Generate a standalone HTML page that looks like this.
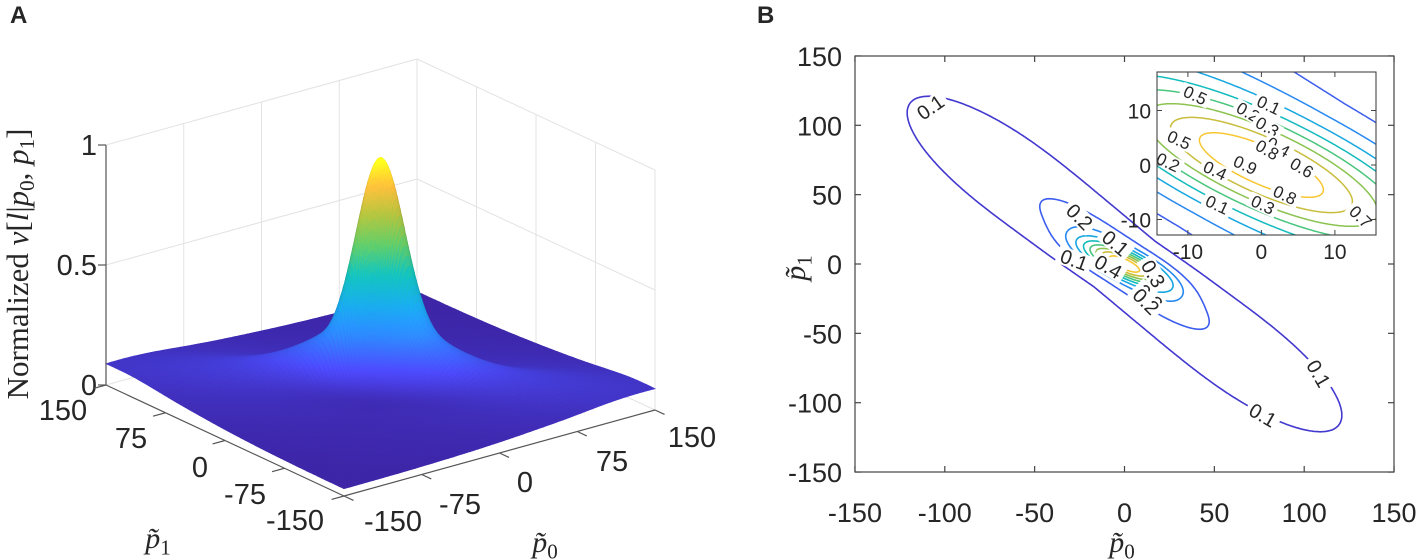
<!DOCTYPE html>
<html><head><meta charset="utf-8"><style>
html,body{margin:0;padding:0;background:#fff;}
svg{display:block;}
text{font-family:"Liberation Sans",sans-serif;fill:#262626;}
.serif{font-family:"Liberation Serif",serif;}
</style></head><body>
<svg id="fig" width="1417" height="560" viewBox="0 0 1417 560" xmlns="http://www.w3.org/2000/svg">
<defs>
<clipPath id="mainClip"><rect x="855" y="56" width="539" height="416"/></clipPath>
<clipPath id="insetClip"><rect x="1157" y="72" width="219" height="163"/></clipPath>
</defs>
<text x="10" y="23" font-size="24" font-weight="bold" fill="#000">A</text>
<text x="757" y="23" font-size="24" font-weight="bold" fill="#000">B</text>
<g id="panelA"></g>
<g id="panelB"></g>
</svg>
<script>
// ---- data ----
const zTicks = [0, 0.5, 1];
const p0TicksA = [-150, -75, 0, 75, 150];
const p1TicksA = [-150, -75, 0, 75, 150];
const mainTicks = [-150, -100, -50, 0, 50, 100, 150];
const insetTicks = [-10, 0, 10];
const contourLevels = [0.1, 0.2, 0.3, 0.4, 0.5, 0.6, 0.7, 0.8, 0.9];
// surface model parameters
const bgLevel = [0.03, 0.05];
const ridgeAmp = [0.08];
const peakAmp = [0.66];
const shoulderAmp = [0.18];
const dipAmp = [0.03];
// contour labels: value, p0, p1
const mainLabelVals = ["0.1","0.2","0.1","0.1","0.4","0.3","0.3","0.2","0.1","0.1"];
const mainLabelP0 = [-108, -25, -5, -28, -9, 16, 14, 12, 108, 77];
const mainLabelP1 = [113, 34, 15, 3, -2, -7, -24, -27, -79, -109];
const insetLabelVals = ["0.5","0.1","0.2","0.3","0.4","0.8","0.6","0.5","0.2","0.4","0.9","0.8","0.3","0.1","0.7"];
const insetLabelX = [-9, 1, -1.8, 0.8, 2.3, 0.8, 5.5, -11.2, -12.7, -6.3, -2.2, 3.2, 0.2, -6, 13.5];
const insetLabelY = [12.8, 11, 9.7, 7, 3.3, 2.8, -0.5, 4.6, 0.5, -1, 0, -5.5, -7.3, -7.3, -9.5];

const NS = "http://www.w3.org/2000/svg";
function el(tag, attrs, parent){const e=document.createElementNS(NS,tag);for(const k in attrs)e.setAttribute(k,attrs[k]);if(parent)parent.appendChild(e);return e;}

function surf(p0,p1){
  const dperp=(p0+p1)/Math.SQRT2, dpar=(p0-p1)/Math.SQRT2;
  const bg=bgLevel[0]+bgLevel[1]*Math.exp(-dperp*dperp/(2*70*70));
  const sp=12+0.09*Math.abs(dpar);
  const ridge=ridgeAmp[0]*Math.exp(-dperp*dperp/(2*sp*sp))*Math.exp(-dpar*dpar/(2*100*100));
  const dip=-dipAmp[0]*Math.exp(-dpar*dpar/(2*40*40))*(1-Math.exp(-dperp*dperp/(2*10*10)))*Math.exp(-dperp*dperp/(2*40*40));
  const sh=shoulderAmp[0]*Math.exp(-dpar*dpar/(2*42*42))*Math.exp(-dperp*dperp/(2*13*13));
  const n=Math.sqrt(1+0.36);
  const a=(p0-0.6*p1)/n, b=(0.6*p0+p1)/n;
  const peak=peakAmp[0]*Math.exp(-a*a/(2*18*18))*Math.exp(-b*b/(2*6*6));
  return bg+ridge+dip+peak+sh;
}
const stops=[[0,[62,38,168]],[0.12,[71,69,233]],[0.25,[44,128,246]],[0.37,[25,165,228]],[0.5,[19,190,184]],[0.62,[94,200,103]],[0.75,[176,191,61]],[0.87,[246,185,58]],[1,[249,251,20]]];
function parula(t,sh){t=Math.max(0,Math.min(1,t));sh=sh||1;let i=0;while(i<stops.length-2&&t>stops[i+1][0])i++;
  const a=stops[i],b=stops[i+1],u=(t-a[0])/(b[0]-a[0]);
  const c=a[1].map((v,k)=>Math.round(Math.min(255,(v+(b[1][k]-v)*u)*sh)));return `rgb(${c[0]},${c[1]},${c[2]})`;}

// ---------- Panel A ----------
const A=document.getElementById('panelA');
function P(p0,p1,z){return [380.5+(p0/150)*155.5+(p1/150)*(-119), 397.5+(p0/150)*(-43)+(p1/150)*(-55.5)-240*z];}
function line(g,a,b,stroke,w,name){const l=el('line',{x1:a[0],y1:a[1],x2:b[0],y2:b[1],stroke:stroke,'stroke-width':w},g);
  
  return l;}
const gridG=el('g',{},A);


const gc='#e3e3e3';
p0TicksA.forEach(v=>{line(gridG,P(v,150,0),P(v,150,1),gc,1,'wall-gridline');});
p1TicksA.forEach(v=>{line(gridG,P(150,v,0),P(150,v,1),gc,1,'wall-gridline');});
zTicks.forEach(z=>{line(gridG,P(-150,150,z),P(150,150,z),gc,1,'wall-gridline');line(gridG,P(150,150,z),P(150,-150,z),gc,1,'wall-gridline');});
// surface on a grid refined near the centre
const N=120;
const gp=[];for(let i=0;i<=N;i++){const t=-1+2*i/N;gp.push(150*(0.3*t+0.7*t*t*t));}
const zv=[];let zmin=1e9,zmax=-1e9;
for(let i=0;i<=N;i++){zv.push([]);for(let j=0;j<=N;j++){const z=surf(gp[i],gp[j]);zv[i].push(z);zmin=Math.min(zmin,z);zmax=Math.max(zmax,z);}}
const quads=[];
for(let i=0;i<N;i++)for(let j=0;j<N;j++)quads.push([i,j]);
quads.sort((q,r)=>(r[0]+r[1])-(q[0]+q[1]));
const sG=el('g',{},A);


const L=[-0.45,-0.55,0.7];const Ln=Math.hypot(...L);
quads.forEach(([i,j])=>{
  const p0=gp[i],p1=gp[j],q0=gp[i+1],q1=gp[j+1];
  const dx=(q0-p0)/150, dy=(q1-p1)/150;
  const z00=zv[i][j],z10=zv[i+1][j],z11=zv[i+1][j+1],z01=zv[i][j+1];
  const zavg=(z00+z10+z11+z01)/4;
  const dzx=((z10+z11)-(z00+z01))/2/dx*0.5, dzy=((z01+z11)-(z00+z10))/2/dy*0.5;
  const nv=[-dzx,-dzy,1];const nn=Math.hypot(...nv);
  const lam=(nv[0]*L[0]+nv[1]*L[1]+nv[2]*L[2])/nn/Ln;
  const shade=0.74+0.36*Math.max(0,lam);
  const col=parula((zavg-zmin)/(zmax-zmin),shade);
  const pts=[P(p0,p1,z00),P(q0,p1,z10),P(q0,q1,z11),P(p0,q1,z01)];
  el('polygon',{points:pts.map(p=>p[0].toFixed(1)+','+p[1].toFixed(1)).join(' '),fill:col,stroke:col,'stroke-width':0.7},sG);
});
// axes
const axG=el('g',{},A);


const ac='#555';
line(axG,P(-150,150,0),P(-150,150,1),ac,1.2,'z-axis-line');
zTicks.forEach(z=>{const p=P(-150,150,z);line(axG,p,[p[0]-8,p[1]],ac,1.2,'z-tick');
  const t=el('text',{x:97,y:p[1]+10,'font-size':29,'text-anchor':'end'},axG);t.textContent=String(z);
  
  });
line(axG,P(-150,150,0),P(-150,-150,0),ac,1.2,'p1-axis-line');
line(axG,P(-150,-150,0),P(150,-150,0),ac,1.2,'p0-axis-line');
const p1LabPos=[[295,520],[245,494],[200,467],[131,438],[63,410]];
p1TicksA.forEach((v,k)=>{const a=P(-150,v,0),b=P(-162,v,0);line(axG,a,b,ac,1.2,'p1-tick');
  const t=el('text',{x:p1LabPos[k][0],y:p1LabPos[k][1]+10,'font-size':29,'text-anchor':'middle'},axG);t.textContent=String(v);
  
  });
const p0LabPos=[[393,521],[460,504],[525,482],[612,461],[692,437]];
p0TicksA.forEach((v,k)=>{const a=P(v,-150,0),b=P(v,-162,0);line(axG,a,b,ac,1.2,'p0-tick');
  const t=el('text',{x:p0LabPos[k][0],y:p0LabPos[k][1]+10,'font-size':29,'text-anchor':'middle'},axG);t.textContent=String(v);
  
  });

function mathLabel(parent,x,y,sub,size,rot,name){
  const t=el('text',{x:x,y:y,'font-size':size,'text-anchor':'middle',class:'serif'},parent);
  if(rot)t.setAttribute('transform',`rotate(${rot} ${x} ${y})`);
  t.innerHTML=`<tspan font-style="italic">p\u0303</tspan><tspan font-size="${size*0.7}" dy="${size*0.22}">${sub}</tspan>`;
  
  
  return t;}
mathLabel(A,158,548,'1',30,0,'p1-axis-title');
mathLabel(A,545,552,'0',30,0,'p0-axis-title');
const zl=el('text',{x:28,y:264,'font-size':31,'text-anchor':'middle',class:'serif',transform:'rotate(-90 28 264)'},A);
zl.innerHTML='Normalized  <tspan font-style="italic">v</tspan>[<tspan font-style="italic">l</tspan>|<tspan font-style="italic">p</tspan><tspan font-size="21" dy="6">0</tspan><tspan dy="-6">, </tspan><tspan font-style="italic">p</tspan><tspan font-size="21" dy="6">1</tspan><tspan dy="-6">]</tspan>';



// ---------- Panel B ----------
const B=document.getElementById('panelB');
function X(v){return 1124.5+v*1.797;}function Y(v){return 264-v*1.387;}
function IX(v){return 1261.4+v*7.35;}function IY(v){return 165-v*5.45;}
function contours(g,x0,x1,y0,y1,step,sx,sy,levels,w){
  const nx=Math.round((x1-x0)/step),ny=Math.round((y1-y0)/step);
  const V=[];for(let i=0;i<=nx;i++){V.push(new Float64Array(ny+1));for(let j=0;j<=ny;j++)V[i][j]=surf(x0+i*step,y0+j*step);}
  const tbl={1:[[3,0]],2:[[0,1]],3:[[3,1]],4:[[1,2]],5:[[0,1],[2,3]],6:[[0,2]],7:[[3,2]],8:[[2,3]],9:[[0,2]],10:[[0,3],[1,2]],11:[[1,2]],12:[[1,3]],13:[[0,1]],14:[[0,3]]};
  levels.forEach(l=>{
    let d='';
    for(let i=0;i<nx;i++)for(let j=0;j<ny;j++){
      const a=V[i][j],b=V[i+1][j],c=V[i+1][j+1],e=V[i][j+1];
      const code=(a>l?1:0)|(b>l?2:0)|(c>l?4:0)|(e>l?8:0);
      if(code===0||code===15)continue;
      const x=x0+i*step,y=y0+j*step;
      const ep=k=>{if(k===0){const t=(l-a)/(b-a);return [x+t*step,y];}
        if(k===1){const t=(l-b)/(c-b);return [x+step,y+t*step];}
        if(k===2){const t=(l-e)/(c-e);return [x+t*step,y+step];}
        const t=(l-a)/(e-a);return [x,y+t*step];};
      tbl[code].forEach(([m,n])=>{const p=ep(m),q=ep(n);d+=`M${sx(p[0]).toFixed(1)} ${sy(p[1]).toFixed(1)}L${sx(q[0]).toFixed(1)} ${sy(q[1]).toFixed(1)}`;});
    }
    const p=el('path',{d:d,fill:'none',stroke:parula((l-zmin)/(zmax-zmin)),'stroke-width':w,'stroke-linecap':'round'},g);
    
    
  });
}
const mainG=el('g',{'clip-path':'url(#mainClip)'},B);


contours(mainG,-150,150,-150,150,1,X,Y,contourLevels,1.6);
function label(g,txt,x,y,size,rot,name){
  const w=txt.length*size*0.56;
  el('rect',{x:x-w/2-1,y:y-size*0.45,width:w+2,height:size*0.9,fill:'#fff',transform:`rotate(${rot} ${x} ${y})`},g);
  const t=el('text',{x:x,y:y+size*0.35,'font-size':size,'text-anchor':'middle',fill:'#000',transform:`rotate(${rot} ${x} ${y})`},g);
  t.textContent=txt;
  
  }
const mainRot=[-35,45,40,20,30,60,45,45,60,30];
mainLabelVals.forEach((v,k)=>label(mainG,v,X(mainLabelP0[k]),Y(mainLabelP1[k]),20,mainRot[k],'contour-label'));
const bx=el('rect',{x:855,y:56,width:539,height:416,fill:'none',stroke:'#444','stroke-width':1.2},B);


mainTicks.forEach(v=>{
  line(B,[X(v),472],[X(v),466],'#444',1.2,'x-tick');line(B,[X(v),56],[X(v),62],'#444',1.2,'x-tick');
  line(B,[855,Y(v)],[861,Y(v)],'#444',1.2,'y-tick');line(B,[1394,Y(v)],[1388,Y(v)],'#444',1.2,'y-tick');
  const tx=el('text',{x:X(v),y:522,'font-size':27,'text-anchor':'middle'},B);tx.textContent=String(v);
  
  
  const ty=el('text',{x:842,y:Y(v)+10,'font-size':27,'text-anchor':'end'},B);ty.textContent=String(v);
  
  
});
mathLabel(B,1122,552,'0',30,0,'x-axis-title');
mathLabel(B,805,268,'1',30,-90,'y-axis-title');
// inset
const inBg=el('rect',{x:1157,y:72,width:219,height:163,fill:'#fff'},B);


const inG=el('g',{'clip-path':'url(#insetClip)'},B);


contours(inG,-14.4,15.8,-13,17.4,0.2,IX,IY,contourLevels,1.5);
const inRot=[25,25,30,30,30,30,30,25,25,25,25,25,25,25,45];
insetLabelVals.forEach((v,k)=>label(inG,v,IX(insetLabelX[k]),IY(insetLabelY[k]),17,inRot[k],'inset-contour-label'));
const ib=el('rect',{x:1157,y:72,width:219,height:163,fill:'none',stroke:'#444','stroke-width':1.1},B);


insetTicks.forEach(v=>{
  line(B,[IX(v),235],[IX(v),230],'#444',1,'inset-x-tick');line(B,[IX(v),72],[IX(v),77],'#444',1,'inset-x-tick');
  line(B,[1157,IY(v)],[1162,IY(v)],'#444',1,'inset-y-tick');line(B,[1376,IY(v)],[1371,IY(v)],'#444',1,'inset-y-tick');
  const tx=el('text',{x:IX(v),y:259,'font-size':21,'text-anchor':'middle'},B);tx.textContent=String(v);
  
  
  const ty=el('text',{x:1151,y:IY(v)+8,'font-size':21,'text-anchor':'end'},B);ty.textContent=String(v);
  
  
});
</script>
</body></html>
